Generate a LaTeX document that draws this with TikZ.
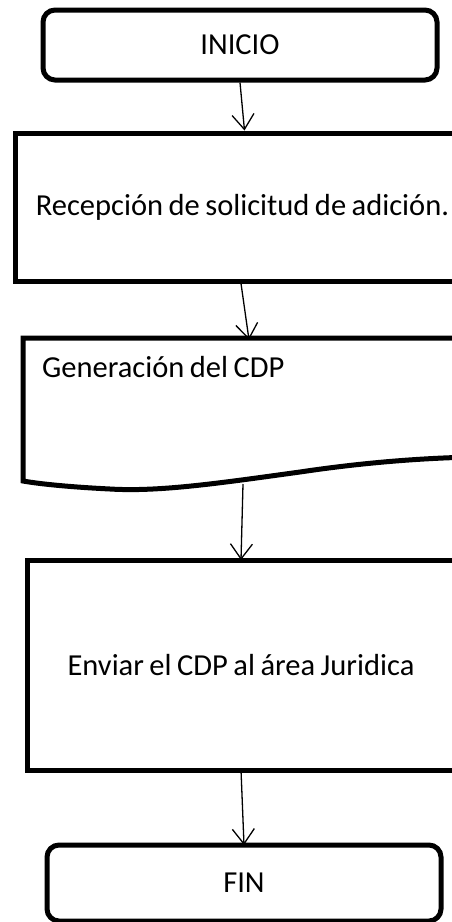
\documentclass[tikz,border=0pt]{standalone}
\usepackage{fontspec}
\setmainfont{Carlito}[WordSpace={0.8,0.5,0.5}]
\usetikzlibrary{arrows.meta}
\begin{document}
\begin{tikzpicture}[x=1pt,y=-1pt,
  every node/.style={font=\fontsize{30.5}{36}\selectfont, inner sep=0pt},
  term/.style={draw, line width=5pt, rounded corners=12pt, fill=white, minimum width=394pt},
  proc/.style={draw, line width=5pt, fill=white},
  arr/.style={line width=1.3pt, -{Straight Barb[length=15pt,width=22pt,line width=1.3pt]}}
]
\useasboundingbox (0,0) rectangle (452,922);
\clip (0,0) rectangle (452,922);
\fill[white] (0,0) rectangle (452,922);

% INICIO
\node[term, minimum height=70pt] (ini) at (240,45) {INICIO};

% Recepcion
\node[proc, minimum width=455pt, minimum height=148pt] (rec) at (242.5,207) {Recepción de solicitud de adición.};

% Document shape
\node[minimum width=450pt, minimum height=145pt] (doc) at (248,410) {};
\draw[line width=5pt, fill=white, line join=miter]
  (23,338) -- (475,338) -- (475,457)
  .. controls (420,458) and (360,463) .. (300,472)
  .. controls (220,483) and (160,492) .. (110,489)
  .. controls (70,487) and (40,484) .. (23,481) -- cycle;
\node[anchor=base west] (gen) at (42,377) {Generación del CDP};
\coordinate (docb) at (243,484);

% Enviar
\node[proc, minimum width=428pt, minimum height=210pt] (env) at (241,665) {Enviar el CDP al área Juridica};

% FIN
\node[term, minimum height=76pt] (fin) at (244,883) {FIN};

% connectors
\draw[arr] (ini.south) -- ([xshift=2pt]rec.north);
\draw[arr] ([xshift=-1.5pt]rec.south) -- ([xshift=1pt,yshift=-2.5pt]doc.north);
\draw[arr] (docb) -- ([yshift=-2.5pt]env.north);
\draw[arr] ([yshift=2.5pt]env.south) -- ([yshift=-2.5pt]fin.north);
\end{tikzpicture}
\end{document}
